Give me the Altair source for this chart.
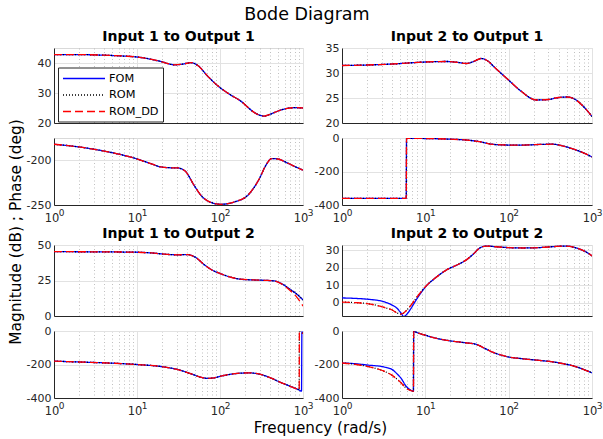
import altair as alt
import pandas as pd

FONT = "DejaVu Sans"
INK = "#262626"
GRID = "#e2e2e2"
MINOR = "#b0b0b0"

SERIES = ["FOM", "ROM", "ROM_DD"]
SERIES_COLORS = ["#0000ff", "#000000", "#ff0000"]
SERIES_DASHES = [[1, 0], [1, 2], [8, 4]]

X_MAJOR = [1, 10, 100, 1000]
X_MINOR = [2, 3, 4, 5, 6, 7, 8, 9, 20, 30, 40, 50, 60, 70, 80, 90,
           200, 300, 400, 500, 600, 700, 800, 900]

# ---------------- Input 1 to Output 1 ----------------
A_MAG_F = [1, 2, 4, 7, 10, 15, 20, 28, 35, 45, 55, 70, 95, 130, 180, 250, 300, 340, 400, 500, 650, 800, 1000]
A_MAG_FOM = [42.8, 42.8, 42.6, 42.3, 42.0, 41.2, 40.4, 39.4, 39.6, 40.1, 39.0, 35.8, 32.3, 29.6, 27.2, 23.8, 22.6, 22.3, 22.9, 24.0, 24.9, 25.1, 25.0]
A_MAG_ROM = [42.8, 42.8, 42.6, 42.3, 42.0, 41.2, 40.4, 39.4, 39.6, 40.1, 39.0, 35.8, 32.3, 29.6, 27.2, 23.8, 22.6, 22.3, 22.9, 24.0, 24.9, 25.1, 25.0]
A_MAG_DD = [42.8, 42.8, 42.6, 42.3, 42.0, 41.2, 40.4, 39.4, 39.6, 40.1, 39.0, 35.8, 32.3, 29.6, 27.2, 23.8, 22.6, 22.3, 22.9, 24.0, 24.9, 25.1, 25.0]

A_PH_F = [1, 2, 3.7, 6, 9.2, 14, 19.5, 25, 31, 38, 48.6, 60, 75, 103, 150, 217, 250, 300, 350, 420, 500, 650, 800, 1000]
A_PH_FOM = [-182, -185, -189, -193, -197.4, -203, -207.4, -208.3, -208.5, -212, -227.8, -240, -246.5, -249.2, -246.5, -239, -232, -220, -207, -198, -198.5, -203, -207, -211]
A_PH_ROM = [-182, -185, -189, -193, -197.4, -203, -207.4, -208.3, -208.5, -212, -227.8, -240, -246.5, -249.2, -246.5, -239, -232, -220, -207, -198, -198.5, -203, -207, -211]
A_PH_DD = [-182, -185, -189, -193, -197.4, -203, -207.4, -208.3, -208.5, -212, -227.8, -240, -246.5, -249.2, -246.5, -239, -232, -220, -207, -198, -198.5, -203, -207, -211]

# ---------------- Input 2 to Output 1 ----------------
B_MAG_F = [1, 2, 4, 10, 18, 25, 31, 38, 47, 55, 70, 98, 140, 214, 300, 400, 504, 600, 800, 1000]
B_MAG_FOM = [31.5, 31.6, 31.8, 32.2, 32.3, 32.1, 31.9, 32.3, 32.9, 32.5, 30.9, 28.7, 26.4, 24.6, 24.7, 25.1, 25.2, 24.9, 23.2, 21.3]
B_MAG_ROM = [31.5, 31.6, 31.8, 32.2, 32.3, 32.1, 31.9, 32.3, 32.9, 32.5, 30.9, 28.7, 26.4, 24.6, 24.7, 25.1, 25.2, 24.9, 23.2, 21.3]
B_MAG_DD = [31.5, 31.6, 31.8, 32.2, 32.3, 32.1, 31.9, 32.3, 32.9, 32.5, 30.9, 28.7, 26.4, 24.6, 24.7, 25.1, 25.2, 24.9, 23.2, 21.3]

B_PH_F = [1, 3, 5.9, 5.95, 7.3, 10, 20, 31, 45, 65, 100, 150, 250, 336, 450, 580, 800, 1000]
B_PH_FOM = [-360, -360, -361, -2, -2, -3, -7, -12, -22, -38, -42, -42, -38, -37, -48, -64, -90, -113]
B_PH_ROM = [-360, -360, -361, -2, -2, -3, -7, -12, -22, -38, -42, -42, -38, -37, -48, -64, -90, -113]
B_PH_DD = [-360, -360, -361, -2, -2, -3, -7, -12, -22, -38, -42, -42, -38, -37, -48, -64, -90, -113]

# ---------------- Input 1 to Output 2 ----------------
C_MAG_F = [1, 3, 10, 15, 23, 30, 41, 50, 65, 80, 103, 130, 178, 250, 350, 450, 550, 710, 850, 1000]
C_MAG_FOM = [45.3, 45.2, 44.9, 44.4, 43.4, 43.1, 43.2, 41.5, 36.0, 32.4, 29.7, 27.6, 25.9, 25.4, 25.1, 24.7, 22.8, 18.5, 15.2, 11.3]
C_MAG_ROM = [45.3, 45.2, 44.9, 44.4, 43.4, 43.1, 43.2, 41.5, 36.0, 32.4, 29.7, 27.6, 25.9, 25.4, 25.1, 24.7, 22.8, 18.5, 15.2, 11.3]
C_MAG_DD = [45.3, 45.2, 44.9, 44.4, 43.4, 43.1, 43.2, 41.5, 36.0, 32.4, 29.7, 27.6, 25.9, 25.4, 25.1, 24.7, 22.6, 17.6, 13.0, 7.0]

C_PH_F = [1, 2, 5, 10, 20, 31, 45, 60, 71, 85, 100, 150, 225, 300, 400, 500, 700, 880, 900, 905, 960, 970, 1000]
C_PH_FOM = [-180, -185, -192, -200, -213, -230, -256, -277, -283, -280, -271, -255, -250, -258, -278, -300, -330, -350, -352, -353, -359, -5, -12]
C_PH_ROM = [-180, -185, -192, -200, -213, -230, -256, -277, -283, -280, -271, -255, -250, -258, -278, -300, -330, -350, -352, -3, -8, -10, -15]
C_PH_DD = [-180, -185, -192, -200, -213, -230, -256, -277, -283, -280, -271, -255, -250, -258, -278, -300, -330, -350, -352, -3, -8, -10, -15]

# ---------------- Input 2 to Output 2 ----------------
D_MAG_F = [1, 1.5, 2, 3.2, 4, 4.6, 5.1, 5.5, 6.0, 6.6, 7.3, 8.5, 10, 13, 18, 25, 31, 37.6, 45, 54, 70, 100, 150, 250, 350, 486, 600, 700, 850, 1000]
D_MAG_FOM = [2.8, 2.5, 2.1, 0.6, -1.3, -3.2, -5.8, -7.8, -6.5, -3.8, -0.4, 4.5, 9.0, 14.0, 18.8, 22.0, 24.5, 27.8, 31.3, 32.4, 32.0, 31.5, 31.3, 31.6, 32.1, 32.4, 31.8, 30.8, 29.0, 26.8]
D_MAG_ROM = [0.4, 0.1, -0.4, -2.6, -4.1, -5.8, -6.4, -5.8, -4.1, -1.8, 1.0, 5.2, 9.2, 14.0, 18.8, 22.0, 24.5, 27.8, 31.3, 32.4, 32.0, 31.5, 31.3, 31.6, 32.1, 32.4, 31.8, 30.8, 29.0, 26.8]
D_MAG_DD = [0.4, 0.1, -0.4, -2.6, -4.1, -5.8, -6.4, -5.8, -4.1, -1.8, 1.0, 5.2, 9.2, 14.0, 18.8, 22.0, 24.5, 27.8, 31.3, 32.4, 32.0, 31.5, 31.3, 31.6, 32.1, 32.4, 31.8, 30.8, 29.0, 26.8]

D_PH_F = [1, 1.5, 2, 3.2, 4, 4.6, 5.2, 5.8, 6.4, 6.9, 7.2, 7.25, 8, 10, 14, 20, 30, 41, 50, 62, 80, 102, 150, 250, 336, 450, 580, 800, 1000]
D_PH_FOM = [-191, -196, -203, -215, -230, -257, -287, -326, -347, -357, -360, -2, -10, -25, -45, -59, -70, -80, -100, -123, -143, -156, -166, -177, -184, -195, -207, -230, -250]
D_PH_ROM = [-191, -200, -211, -240, -265, -289, -313, -338, -352, -357, -360, -2, -10, -25, -45, -59, -70, -80, -100, -123, -143, -156, -166, -177, -184, -195, -207, -230, -250]
D_PH_DD = [-191, -200, -211, -240, -265, -289, -313, -338, -352, -357, -360, -2, -10, -25, -45, -59, -70, -80, -100, -123, -143, -156, -166, -177, -184, -195, -207, -230, -250]

TITLES = ["Input 1 to Output 1", "Input 2 to Output 1", "Input 1 to Output 2", "Input 2 to Output 2"]


def table(freq, fom, rom, dd):
    rows = []
    for name, values in zip(SERIES, (fom, rom, dd)):
        for f, v in zip(freq, values):
            rows.append({"f": f, "v": v, "s": name})
    return pd.DataFrame(rows)


XS = alt.Scale(type="log", domain=[1, 1000], nice=False)
ONE = pd.DataFrame({"a": [0]})


def text_layer(text, x, y, size, weight="normal", angle=0, baseline="alphabetic"):
    return alt.Chart(ONE).mark_text(
        text=text, font=FONT, fontSize=size, fontWeight=weight, color="#000000",
        align="center", baseline=baseline, angle=angle,
    ).encode(x=alt.value(x), y=alt.value(y))


def panel(df, ydom, yticks, width, height, xlabels, legend=False, extras=()):
    ys = alt.Scale(domain=ydom, nice=False, zero=False)
    main_axis = alt.Axis(
        values=X_MAJOR, grid=True, gridColor=GRID, gridWidth=1,
        domain=True, domainColor=INK, domainWidth=1, ticks=False, tickSize=0,
        labels=xlabels, labelExpr="'10'", labelFont=FONT, labelFontSize=11.5,
        labelColor=INK, labelPadding=7, labelOffset=-2.5, labelFlush=False,
        labelOverlap=False, title=None, orient="bottom",
    )
    minor_axis = alt.Axis(
        values=X_MINOR, grid=True, gridColor=MINOR, gridWidth=0.8, gridDash=[1, 2.5],
        domain=False, ticks=False, tickSize=0, labels=False, title=None, orient="bottom",
    )
    sup_axis = alt.Axis(
        values=X_MAJOR, grid=False, domain=False, ticks=False, tickSize=0,
        labelExpr="'' + round(log(datum.value) / LN10)", labelFont=FONT,
        labelFontSize=9, labelColor=INK, labelPadding=3.5, labelOffset=7,
        labelFlush=False, labelOverlap=False, title=None, orient="bottom",
    )
    y_axis = alt.Axis(
        values=yticks, grid=True, gridColor=GRID, gridWidth=1, domain=True,
        domainColor=INK, domainWidth=1, ticks=False, tickSize=0,
        labelExpr="'' + datum.value", labelFont=FONT, labelFontSize=11,
        labelColor=INK, labelPadding=3, labelOverlap=False, title=None,
    )
    if legend:
        leg = alt.Legend(
            orient="none", legendX=4, legendY=19.5, title=None, direction="vertical",
            symbolType="M-1,0H6", symbolSize=144, symbolStrokeWidth=1.3,
            labelFont=FONT, labelFontSize=11.3, labelColor="#000000", labelOffset=33,
            padding=4, rowPadding=3.5, strokeColor=INK, fillColor="white",
        )
    else:
        leg = None
    color = alt.Color("s:N", scale=alt.Scale(domain=SERIES, range=SERIES_COLORS), legend=leg)
    dash = alt.StrokeDash("s:N", scale=alt.Scale(domain=SERIES, range=SERIES_DASHES), legend=leg)
    yenc = alt.Y("v:Q", scale=ys, axis=y_axis)

    series_layers = []
    for name in SERIES:
        series_layers.append(
            alt.Chart(df).transform_filter(alt.datum.s == name)
            .mark_line(clip=True, strokeWidth=1.3, interpolate="monotone")
            .encode(
                x=alt.X("f:Q", scale=XS, axis=main_axis),
                y=yenc,
                color=color,
                strokeDash=dash,
            )
        )
    lines = alt.layer(*series_layers)
    minor = alt.Chart(df).mark_line(opacity=0, clip=True).encode(
        x=alt.X("f:Q", scale=XS, axis=minor_axis),
        y=yenc,
    )
    layers = [minor, lines]
    if xlabels:
        layers.append(
            alt.Chart(df).mark_line(opacity=0, clip=True).encode(
                x=alt.X("f:Q", scale=XS, axis=sup_axis),
                y=yenc,
            )
        )
    layers.extend(extras)
    return alt.layer(*layers).resolve_axis(x="independent").properties(width=width, height=height)


W_L, W_R = 249, 250
H_MAG1, H_PH1, H_MAG2, H_PH2 = 75, 67, 71, 67

anchor = alt.Chart(ONE).mark_rule(strokeOpacity=0).encode(
    x=alt.value(-53), x2=alt.value(-53), y=alt.value(-137), y2=alt.value(-130)
)

magA = panel(table(A_MAG_F, A_MAG_FOM, A_MAG_ROM, A_MAG_DD), [20, 45], [20, 30, 40], W_L, H_MAG1, False,
             legend=True, extras=[text_layer(TITLES[0], W_L / 2, -7.5, 14, "bold")])
magB = panel(table(B_MAG_F, B_MAG_FOM, B_MAG_ROM, B_MAG_DD), [20, 35], [20, 25, 30, 35], W_R, H_MAG1, False,
             extras=[text_layer(TITLES[1], W_R / 2, -7.5, 14, "bold")])
phA = panel(table(A_PH_F, A_PH_FOM, A_PH_ROM, A_PH_DD), [-250, -175], [-250, -200], W_L, H_PH1, True,
            extras=[anchor,
                    text_layer("Bode Diagram", 253, -118.5, 17.5),
                    text_layer("Magnitude (dB) ; Phase (deg)", -33.5, 94, 15.4, angle=270)])
phB = panel(table(B_PH_F, B_PH_FOM, B_PH_ROM, B_PH_DD), [-400, 0], [-400, -200, 0], W_R, H_PH1, True)
magC = panel(table(C_MAG_F, C_MAG_FOM, C_MAG_ROM, C_MAG_DD), [0, 50], [0, 25, 50], W_L, H_MAG2, False,
             extras=[text_layer(TITLES[2], W_L / 2, -7.5, 14, "bold")])
magD = panel(table(D_MAG_F, D_MAG_FOM, D_MAG_ROM, D_MAG_DD), [-7.5, 33], [0, 10, 20, 30], W_R, H_MAG2, False,
             extras=[text_layer(TITLES[3], W_R / 2, -7.5, 14, "bold")])
phC = panel(table(C_PH_F, C_PH_FOM, C_PH_ROM, C_PH_DD), [-400, 0], [-400, -200, 0], W_L, H_PH2, True,
            extras=[text_layer("Frequency (rad/s)", 266.5, 102, 15.2)])
phD = panel(table(D_PH_F, D_PH_FOM, D_PH_ROM, D_PH_DD), [-400, 0], [-400, -200, 0], W_R, H_PH2, True)


def spacer(width):
    return alt.Chart(ONE).mark_point(opacity=0).encode(
        x=alt.value(0), y=alt.value(0)
    ).properties(width=width, height=10, view=alt.ViewBackground(stroke="transparent"))


chart = alt.concat(
    magA, magB, phA, phB, spacer(W_L), spacer(W_R), magC, magD, phC, phD,
    columns=2, spacing={"row": 15, "column": 39}, bounds="flush",
).resolve_scale(
    color="independent", strokeDash="independent"
).properties(
    padding=0, background="white"
).configure_view(stroke="#d9d9d9")

chart.save("out.html", embed_options={"renderer": "svg", "actions": False})
